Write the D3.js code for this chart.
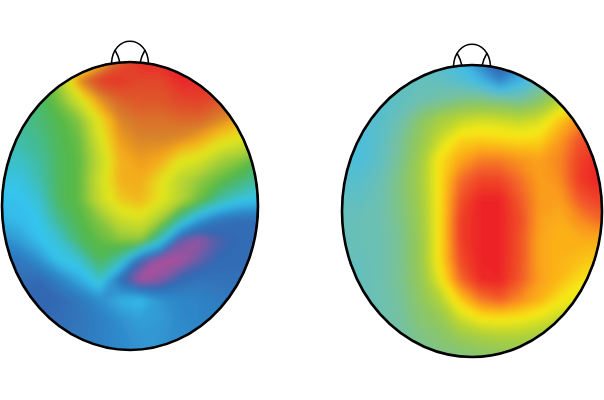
<!DOCTYPE html>
<html><head><meta charset="utf-8">
<script src="https://cdn.jsdelivr.net/npm/d3@7"></script>
<style>html,body{margin:0;padding:0;background:#fff}svg{display:block}</style>
</head><body><svg id="c" width="604" height="400"></svg>
<script>
const colorStops = [0,1,2,3,4,5,6,7,8,8.5,9,10];
const leftColors  = ["#a8509c","#3068b2","#2f8ccc","#36c4ee","#43bb98","#55b848","#aed136","#e3e61c","#f5a81a","#d8822a","#dd5f2c","#e8262a"];
const rightColors = ["#3a56a5","#3270bb","#3a9bd6","#45bde4","#6fc0ae","#8ec760","#b5d334","#f7ea14","#fbaa1a","#f88a20","#f3622a","#ec2227"];
const leftValues = [
[4,4,4.5,5,6,7.5,9,10,10,10,10,10,10,10],
[4,4,4.5,6,8.5,9.6,9.8,9.5,9.5,10,10,10,10,10],
[4,4,4.7,5.5,6.8,8.3,9,9.2,9.2,9.5,9.6,9.2,9,9],
[4,4.1,4.5,5,5.6,7.2,8.5,8.8,8.8,8.9,8.9,8.5,8,8],
[3.9,3.9,4.2,4.9,5.3,6.8,8.2,8.5,8.5,8.4,8,7.3,6.9,6.5],
[3.5,3.5,4,4.8,5.2,6.4,7.9,8.2,8,7.1,6.8,6,5.6,5],
[3.2,3.2,3.8,4.8,5.2,6.6,7.9,8,7.2,6.3,5.7,5.2,4.6,4],
[3,3,3.4,4.8,5.2,6.5,7.5,7.8,7.1,6.2,5.2,3.9,3.2,3],
[2.7,2.9,3.1,4.2,5,5.6,6.5,6.8,5.9,4,2.2,1.4,1.2,1.2],
[2,2.4,3,3.4,4.7,5.2,5.6,5.7,3.6,0.6,0.2,0.8,1.1,1.1],
[1.3,1.5,2.2,3.1,3.4,4.8,3.8,1,0,0,0.6,1.1,1.1,1.1],
[1.1,1.2,1.1,1.8,2.6,3.5,1.2,0,0.3,1.1,1.4,1.3,1.3,1.3],
[1,1,1,1.1,1.5,2.1,2.7,2.9,2.2,1.9,1.8,1.6,1.5,1.5],
[1,1,1.1,1.2,1.4,1.7,2.1,2.4,2.3,2,1.8,1.7,1.6,1.6],
[1.2,1.2,1.3,1.4,1.5,1.7,2,2.2,2.2,2,2,2,2,2],
[1.3,1.3,1.4,1.5,1.6,1.8,2,2.2,2.2,2,2,2,2,2]
];
const rightValues = [
[3.5,3.5,3.5,3.5,3.5,3.4,3,1.2,0.4,1.2,3,3.5,4,4],
[3.6,3.6,3.7,3.7,3.8,3.7,3.4,2.8,1.4,2.7,3.7,4.5,5,5],
[3.3,3.3,3.4,3.7,4,4.2,4.5,4.6,4.4,4.2,4.8,6,6.5,6.5],
[3.2,3.3,3.5,4,4.9,5.7,6.2,6.5,6.4,6.2,6.5,7.6,8.5,8.5],
[3.2,3.2,3.6,4.3,5.2,6.4,7.4,7.5,7.4,7.3,7.4,8.3,9.3,9.5],
[3.3,3.2,3.7,4.4,5.5,7.2,8.1,8.7,8.7,8.4,8.2,8.6,9.6,10],
[3.5,3.5,3.9,4.6,5.6,7.2,8.9,9.5,9.5,8.9,8.2,8.5,9.7,10],
[3.7,3.7,4,4.6,5.5,7.2,9.3,10,10,9.2,8.3,8.2,9.2,9.6],
[3.9,3.9,4,4.5,5.4,7.2,9.6,10,10,9.4,8.2,8,8.5,9],
[3.9,3.9,4,4.4,5.3,7.2,9.6,10,10,9.3,8.1,7.9,8,8],
[3.8,3.8,4,4.4,5.3,7.2,9.4,10,10,9.3,8.1,7.9,7.7,7.5],
[3.8,3.8,4,4.4,5.2,6.8,8.9,9.9,10,9.2,8.2,7.8,7.2,7],
[3.8,3.8,4,4.3,5,5.9,7.5,8.7,9.1,8.5,7.9,7.1,6.7,6.5],
[3.8,3.8,4,4.2,4.8,5.2,6.3,6.9,7,6.9,6.6,6.2,6,6],
[4,4,4,4.2,4.5,4.8,5.2,5.5,5.7,5.7,5.5,5,5,5],
[4,4,4,4.2,4.3,4.5,4.5,4.7,4.8,4.8,4.5,4.5,4.5,4.5]
];
const heads = [
 {id:"l",values:leftValues,colors:leftColors,cx:130,cy:206,rx:128,ry:144,x0:0,noseTop:41},
 {id:"r",values:rightValues,colors:rightColors,cx:472,cy:211,rx:130,ry:146,x0:340,noseTop:44}
];
const svg = d3.select("#c");
const defs = svg.append("defs");
defs.append("filter").attr("id","soft").attr("filterUnits","userSpaceOnUse")
  .attr("x",-40).attr("y",0).attr("width",700).attr("height",400)
  .append("feGaussianBlur").attr("stdDeviation",3);
const thresholds = d3.range(0,10.01,0.1);
heads.forEach(h=>{
  const rows=h.values.length, cols=h.values[0].length;
  const color=d3.scaleLinear().domain(colorStops).range(h.colors).clamp(true);
  const xs=d3.scaleLinear().domain([0.5,cols-0.5]).range([h.x0,h.x0+20*(cols-1)]);
  const ys=d3.scaleLinear().domain([0.5,rows-0.5]).range([60,60+20*(rows-1)]);
  const path=d3.geoPath(d3.geoTransform({point(x,y){this.stream.point(xs(x),ys(y));}}));
  const cs=d3.contours().size([cols,rows]).smooth(true).thresholds(thresholds)(h.values.flat());
  defs.append("clipPath").attr("id","clip"+h.id).append("ellipse")
    .attr("cx",h.cx).attr("cy",h.cy).attr("rx",h.rx).attr("ry",h.ry);
  const g=svg.append("g").attr("clip-path",`url(#clip${h.id})`).append("g").attr("filter","url(#soft)");
  g.selectAll("path").data(cs).join("path").attr("d",path)
    .attr("fill",d=>color(d.value)).attr("stroke",d=>color(d.value)).attr("stroke-width",0.5);
  const topY=h.cy-h.ry, c=h.cx;
  const nose=svg.append("g").attr("fill","none").attr("stroke","#000").attr("stroke-width",1.5);
  nose.append("path").attr("d",`M${c-18.5},${topY+1}C${c-17},${h.noseTop-7} ${c+17},${h.noseTop-7} ${c+18.5},${topY+1}`);
  nose.append("path").attr("d",`M${c-15},${topY-12}Q${c-11.5},${topY-6} ${c-10},${topY+1}`);
  nose.append("path").attr("d",`M${c+15},${topY-12}Q${c+11.5},${topY-6} ${c+10},${topY+1}`);
  svg.append("ellipse").attr("cx",h.cx).attr("cy",h.cy).attr("rx",h.rx).attr("ry",h.ry)
    .attr("fill","none").attr("stroke","#000").attr("stroke-width",2.6);
});
</script></body></html>
